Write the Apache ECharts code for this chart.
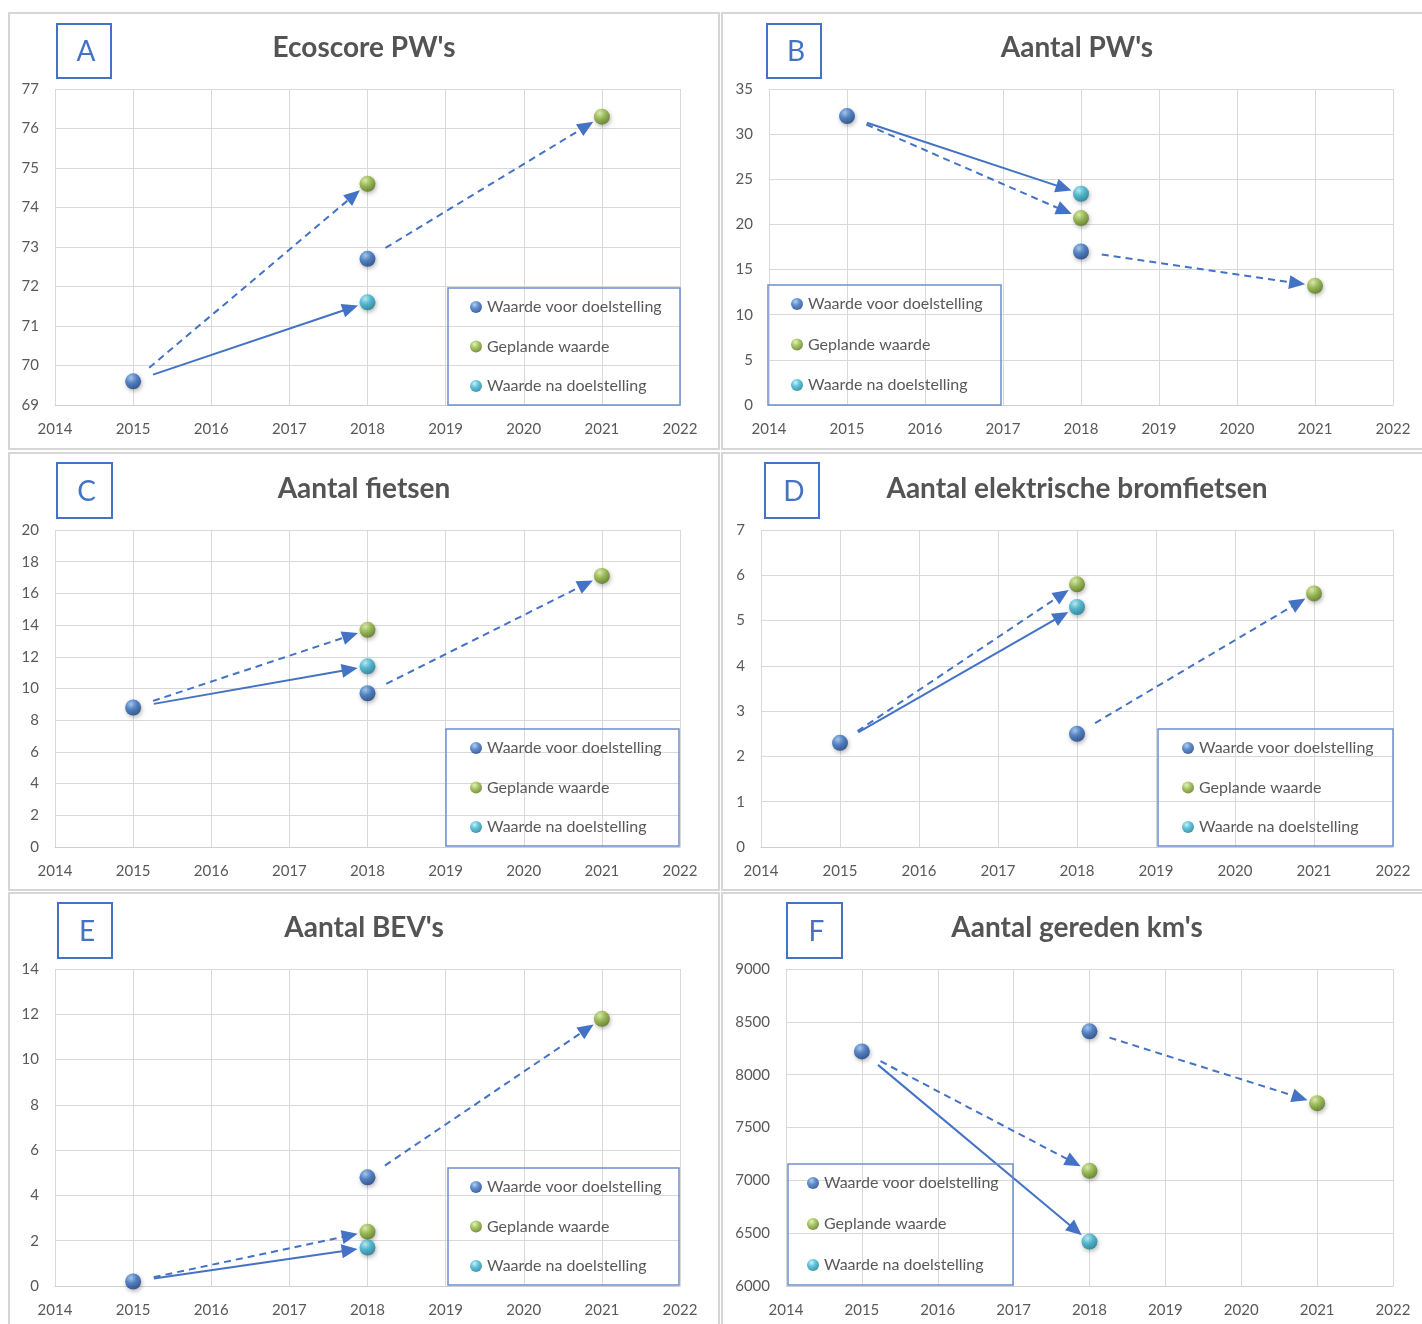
<!DOCTYPE html>
<html>
<head>
<meta charset="utf-8">
<script src="https://cdn.jsdelivr.net/npm/echarts@6/dist/echarts.min.js"></script>
<style>
  html, body { margin: 0; padding: 0; background: #ffffff; }
  #chart { width: 1422px; height: 1324px; }
</style>
</head>
<body>
<div id="chart"></div>
<script>
// ---- Data -------------------------------------------------------------
const panelLetters = ['A', 'B', 'C', 'D', 'E', 'F'];
const panelTitles = [
  "Ecoscore PW's",
  "Aantal PW's",
  "Aantal fietsen",
  "Aantal elektrische bromfietsen",
  "Aantal BEV's",
  "Aantal gereden km's"
];
const seriesNames = ['Waarde voor doelstelling', 'Geplande waarde', 'Waarde na doelstelling'];

// x axis: years
const yearMin = 2014;
const yearMax = 2022;
const yearStep = 1;

// y axis ranges per panel
const yMin = [69, 0, 0, 0, 0, 6000];
const yMax = [77, 35, 20, 7, 14, 9000];
const yStep = [1, 5, 2, 1, 2, 500];

// [year, value]
const voorA = [[2015, 69.6], [2018, 72.7]];
const geplandA = [[2018, 74.6], [2021, 76.3]];
const naA = [[2018, 71.6]];

const voorB = [[2015, 32], [2018, 17]];
const geplandB = [[2018, 20.7], [2021, 13.2]];
const naB = [[2018, 23.4]];

const voorC = [[2015, 8.8], [2018, 9.7]];
const geplandC = [[2018, 13.7], [2021, 17.1]];
const naC = [[2018, 11.4]];

const voorD = [[2015, 2.3], [2018, 2.5]];
const geplandD = [[2018, 5.8], [2021, 5.6]];
const naD = [[2018, 5.3]];

const voorE = [[2015, 0.2], [2018, 4.8]];
const geplandE = [[2018, 2.4], [2021, 11.8]];
const naE = [[2018, 1.7]];

const voorF = [[2015, 8220], [2018, 8410]];
const geplandF = [[2018, 7090], [2021, 7730]];
const naF = [[2018, 6420]];

const voorAll = [voorA, voorB, voorC, voorD, voorE, voorF];
const geplandAll = [geplandA, geplandB, geplandC, geplandD, geplandE, geplandF];
const naAll = [naA, naB, naC, naD, naE, naF];

// arrows: [from series, point index, to series, point index, dashed]
const arrowLinks = [
  ['voor', 0, 'gepland', 0, 1],
  ['voor', 0, 'na', 0, 0],
  ['voor', 1, 'gepland', 1, 1]
];

// ---- Layout & style ---------------------------------------------------
const FONT = 'Lato, "Open Sans", sans-serif';
const TEXT_GREY = '#595959';
const GRID_GREY = '#d9d9d9';
const FRAME_GREY = '#d6d6d6';
const ACCENT = '#4472c4';
const ARROW_COLOR = '#4472c4';

const layout = [
  { frame: [9, 13, 710, 436],  letterBox: [57, 24, 54, 54],  title: [364, 48],
    grid: { left: 55, top: 89, width: 625, height: 316 },
    legendBox: [448, 288, 232, 117], legendPos: [470, 298], legendGap: 21.5 },
  { frame: [722, 13, 702, 436], letterBox: [767, 24, 54, 54], title: [1077, 48],
    grid: { left: 769, top: 89, width: 624, height: 316 },
    legendBox: [768, 285, 233, 120], legendPos: [791, 295], legendGap: 22.5 },
  { frame: [9, 453, 710, 437], letterBox: [57, 463, 55, 55], title: [364, 489],
    grid: { left: 55, top: 530, width: 625, height: 317 },
    legendBox: [446, 729, 233, 117], legendPos: [470, 739], legendGap: 21.5 },
  { frame: [722, 453, 702, 437], letterBox: [765, 463, 54, 55], title: [1077, 489],
    grid: { left: 761, top: 530, width: 632, height: 317 },
    legendBox: [1158, 729, 235, 117], legendPos: [1182, 739], legendGap: 21.5 },
  { frame: [9, 893, 710, 433], letterBox: [58, 903, 54, 55], title: [364, 928],
    grid: { left: 55, top: 969, width: 625, height: 317 },
    legendBox: [448, 1168, 231, 117], legendPos: [470, 1178], legendGap: 21.5 },
  { frame: [722, 893, 702, 433], letterBox: [787, 903, 55, 55], title: [1077, 928],
    grid: { left: 786, top: 969, width: 607, height: 317 },
    legendBox: [788, 1164, 225, 121], legendPos: [807, 1174], legendGap: 23 }
];

function sphere(hi, mid, edge) {
  return {
    type: 'radial', x: 0.38, y: 0.3, r: 0.75,
    colorStops: [
      { offset: 0, color: hi },
      { offset: 0.45, color: mid },
      { offset: 1, color: edge }
    ]
  };
}
const sphereStyles = {
  voor: sphere('#9cc3f0', '#3670c2', '#153b7a'),
  gepland: sphere('#dcefa8', '#8fb63b', '#526f17'),
  na: sphere('#b5eef8', '#35b3cf', '#17768f')
};

const START_GAP = 21;
const END_GAP = 10;
const HEAD_LEN = 16;
const HEAD_W = 14;

function renderArrow(params, api) {
  const a = api.coord([api.value(0), api.value(1)]);
  const b = api.coord([api.value(2), api.value(3)]);
  const dashed = api.value(4) === 1;
  const dx = b[0] - a[0], dy = b[1] - a[1];
  const len = Math.hypot(dx, dy);
  const ux = dx / len, uy = dy / len;
  const nx = -uy, ny = ux;
  const sx = a[0] + ux * START_GAP, sy = a[1] + uy * START_GAP;
  const tx = b[0] - ux * END_GAP, ty = b[1] - uy * END_GAP;
  const bx = tx - ux * HEAD_LEN, by = ty - uy * HEAD_LEN;
  return {
    type: 'group',
    children: [
      {
        type: 'line',
        shape: { x1: sx, y1: sy, x2: bx + ux * 2, y2: by + uy * 2 },
        style: { stroke: ARROW_COLOR, lineWidth: 2, lineDash: dashed ? [7, 5] : null }
      },
      {
        type: 'polygon',
        shape: { points: [[tx, ty], [bx + nx * HEAD_W / 2, by + ny * HEAD_W / 2], [bx - nx * HEAD_W / 2, by - ny * HEAD_W / 2]] },
        style: { fill: ARROW_COLOR }
      }
    ]
  };
}

// ---- Option -----------------------------------------------------------
const grids = [], xAxes = [], yAxes = [], legends = [], series = [], graphics = [];

layout.forEach((L, i) => {
  // panel frame
  graphics.push({
    type: 'rect', silent: true, z: -10,
    shape: { x: L.frame[0], y: L.frame[1], width: L.frame[2], height: L.frame[3] },
    style: { fill: '#ffffff', stroke: FRAME_GREY, lineWidth: 2 }
  });
  // letter box
  graphics.push({
    type: 'rect', silent: true,
    shape: { x: L.letterBox[0], y: L.letterBox[1], width: L.letterBox[2], height: L.letterBox[3] },
    style: { fill: '#ffffff', stroke: ACCENT, lineWidth: 2 }
  });
  graphics.push({
    type: 'text', silent: true,
    x: L.letterBox[0] + L.letterBox[2] / 2 + 2, y: L.letterBox[1] + L.letterBox[3] / 2 + 1,
    style: { text: panelLetters[i], fill: ACCENT, font: '400 28px ' + FONT, align: 'center', verticalAlign: 'middle' }
  });
  // title
  graphics.push({
    type: 'text', silent: true,
    x: L.title[0], y: L.title[1],
    style: { text: panelTitles[i], fill: '#545454', font: '700 28px ' + FONT, align: 'center', verticalAlign: 'middle' }
  });
  // legend frame
  graphics.push({
    type: 'rect', silent: true, z: 5,
    shape: { x: L.legendBox[0], y: L.legendBox[1], width: L.legendBox[2], height: L.legendBox[3] },
    style: { fill: 'none', stroke: '#6d8fcb', lineWidth: 1.5 }
  });

  grids.push(Object.assign({ outerBoundsMode: 'none', containLabel: false }, L.grid));

  xAxes.push({
    type: 'value', gridIndex: i, min: yearMin, max: yearMax, interval: yearStep,
    axisLine: { show: true, lineStyle: { color: '#cfcfcf', width: 1 } },
    axisTick: { show: false },
    splitLine: { show: true, lineStyle: { color: GRID_GREY, width: 1 } },
    axisLabel: { color: TEXT_GREY, fontSize: 15, fontFamily: FONT, margin: 17, formatter: v => String(v) }
  });
  yAxes.push({
    type: 'value', gridIndex: i, min: yMin[i], max: yMax[i], interval: yStep[i],
    axisLine: { show: false },
    axisTick: { show: false },
    splitLine: { show: true, lineStyle: { color: GRID_GREY, width: 1 } },
    axisLabel: { color: TEXT_GREY, fontSize: 15, fontFamily: FONT, margin: 16, formatter: v => String(v) }
  });

  legends.push({
    orient: 'vertical', left: L.legendPos[0], top: L.legendPos[1],
    itemGap: L.legendGap, itemWidth: 12, itemHeight: 12, icon: 'circle',
    selectedMode: false, padding: 0,
    textStyle: { color: TEXT_GREY, fontSize: 16, fontFamily: FONT, lineHeight: 18 },
    data: seriesNames
  });

  const sets = { voor: voorAll[i], gepland: geplandAll[i], na: naAll[i] };

  // arrows between the points
  const arrowData = arrowLinks.map(([fs, fi, ts, ti, dashed]) => {
    const p = sets[fs][fi], q = sets[ts][ti];
    return [p[0], p[1], q[0], q[1], dashed];
  });
  series.push({
    type: 'custom', xAxisIndex: i, yAxisIndex: i, silent: true, z: 1,
    dimensions: ['x1', 'y1', 'x2', 'y2', 'dashed'],
    encode: { x: [0, 2], y: [1, 3] },
    renderItem: renderArrow,
    data: arrowData
  });

  [['voor', 0], ['gepland', 1], ['na', 2]].forEach(([key, n]) => {
    series.push({
      type: 'scatter', name: seriesNames[n], xAxisIndex: i, yAxisIndex: i, z: 3,
      symbol: 'circle', symbolSize: 16,
      itemStyle: {
        color: sphereStyles[key],
        shadowBlur: 4, shadowColor: 'rgba(0,0,0,0.35)', shadowOffsetX: 1, shadowOffsetY: 2
      },
      emphasis: { disabled: true },
      data: sets[key]
    });
  });
});

const chart = echarts.init(document.getElementById('chart'), null, { renderer: 'canvas' });
chart.setOption({
  animation: false,
  backgroundColor: '#ffffff',
  grid: grids,
  xAxis: xAxes,
  yAxis: yAxes,
  legend: legends,
  graphic: { elements: graphics },
  series: series
});
</script>
</body>
</html>
